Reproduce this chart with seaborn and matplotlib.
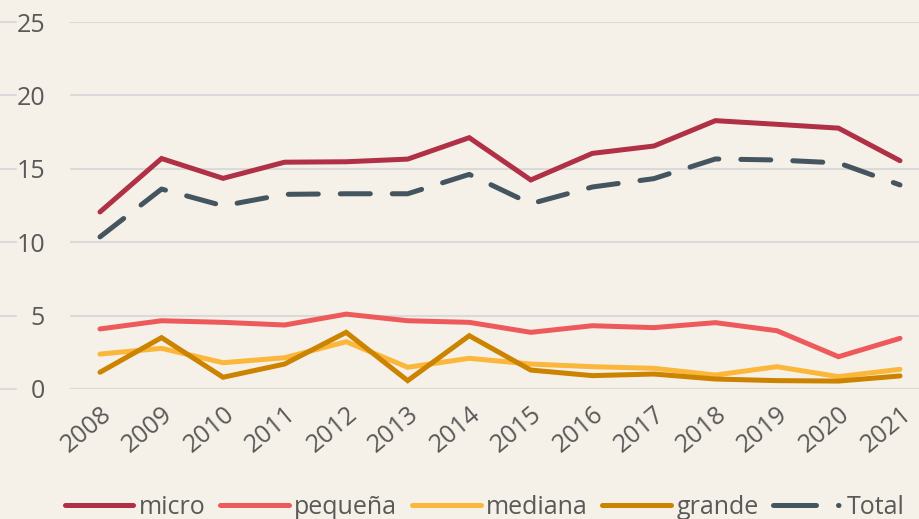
import numpy as np
import pandas as pd
import seaborn as sns
from matplotlib import pyplot as plt
from matplotlib import transforms

years = list(range(2008, 2022))
micro = [12.06, 15.7, 14.35, 15.45, 15.48, 15.66, 17.12, 14.24, 16.05, 16.55, 18.28, 18.03, 17.77, 15.55]
pequena = [4.09, 4.65, 4.54, 4.36, 5.1, 4.65, 4.54, 3.86, 4.31, 4.18, 4.52, 3.97, 2.2, 3.45]
mediana = [2.38, 2.77, 1.79, 2.13, 3.22, 1.48, 2.09, 1.7, 1.52, 1.41, 0.95, 1.52, 0.84, 1.34]
grande = [1.14, 3.5, 0.8, 1.7, 3.86, 0.57, 3.63, 1.29, 0.91, 1.02, 0.68, 0.57, 0.54, 0.89]
total = [10.36, 13.62, 12.48, 13.26, 13.3, 13.3, 14.62, 12.62, 13.76, 14.33, 15.67, 15.6, 15.4, 13.9]

series = {'micro': micro, 'pequeña': pequena, 'mediana': mediana, 'grande': grande, 'Total': total}
colors = {'micro': '#B03046', 'pequeña': '#EE5A5C', 'mediana': '#FBB73A', 'grande': '#CB8300', 'Total': '#44555F'}

df = pd.concat([pd.DataFrame({'year': years, 'value': v, 'serie': k}) for k, v in series.items()])

bg = '#F5F0E8'
grey = '#595959'
sns.set_theme(style="white")
plt.rcParams['font.family'] = ['Open Sans', 'DejaVu Sans']

fig = plt.figure(figsize=(9.2, 5.19), dpi=100, facecolor=bg)
ax = fig.add_axes([70 / 920, 1 - 389 / 519, 850 / 920, 367 / 519])
ax.set_facecolor(bg)

lw = 3.6
for k in series:
    sub = df[df.serie == k]
    if k == 'Total':
        sns.lineplot(data=sub, x='year', y='value', ax=ax, color=colors[k], lw=lw, label=k,
                     dashes=False, linestyle=(0, (6, 4.4)), dash_capstyle='round', zorder=3)
    else:
        sns.lineplot(data=sub, x='year', y='value', ax=ax, color=colors[k], lw=lw, label=k,
                     solid_capstyle='round', solid_joinstyle='miter', zorder=2)

ax.set_xlim(2008 - 30 * 13 / 800, 2021 + 20 * 13 / 800)
ax.set_ylim(0, 25)
ax.set_yticks([0, 5, 10, 15, 20, 25])
ax.set_xticks(years)
ax.set_xticklabels([str(y) for y in years], rotation=40, ha='right', rotation_mode='anchor')
ax.tick_params(axis='both', length=0, labelsize=18, labelcolor=grey)
ax.tick_params(axis='y', pad=18)
ax.tick_params(axis='x', pad=9)
ax.set_xlabel('')
ax.set_ylabel('')
ax.grid(axis='y', color='#DADADA', lw=1.5, zorder=0)
ax.grid(axis='x', visible=False)
for s in ax.spines.values():
    s.set_visible(False)

# little grid stubs at the far left, left of the tick labels
tr = transforms.blended_transform_factory(fig.transFigure, ax.transData)
for yv in [0, 5, 10, 15, 20, 25]:
    ax.plot([0, 16 / 920], [yv, yv], transform=tr, color='#DADADA', lw=1.5, clip_on=False)

leg = ax.legend(loc='center', bbox_to_anchor=(0.527, 1 - 507 / 519), bbox_transform=fig.transFigure,
                ncol=5, frameon=False, fontsize=18, handlelength=2.75, handletextpad=0.2,
                columnspacing=0.6, labelcolor=grey, borderaxespad=0)
for t in leg.get_texts():
    t.set_color(grey)
for h in leg.legend_handles:
    h.set_solid_capstyle('round')
leg.legend_handles[4].set_linestyle((0, (8.6, 4.4, 0.1, 6)))
leg.legend_handles[4].set_dash_capstyle('round')

fig.savefig('out.png', dpi=100, facecolor=bg)
